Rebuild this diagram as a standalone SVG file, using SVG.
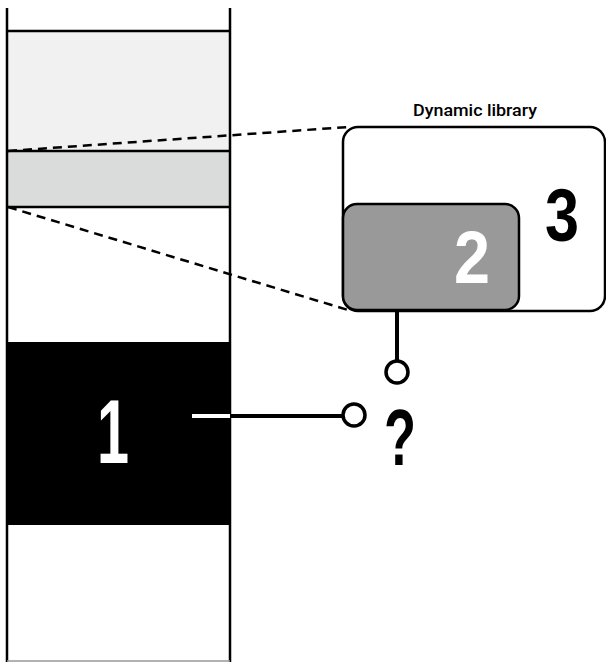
<svg xmlns="http://www.w3.org/2000/svg" width="606" height="662" viewBox="0 0 606 662">
<style>
.col{stroke:#000;stroke-width:2.5;fill:none}
.dash{stroke:#000;stroke-width:2.5;stroke-dasharray:9,6;fill:none}
.conn{stroke:#000;stroke-width:4;fill:none}
.pin{stroke:#000;stroke-width:3.5;fill:#fff}
.num{font-family:"Liberation Sans",Arial,sans-serif;font-weight:bold}
</style>
<rect width="606" height="662" fill="#fff"/>
<g id="memory">
<rect x="7" y="31" width="223" height="120" fill="#f1f1f1"/>
<rect x="7" y="151" width="223" height="56" fill="#dadbdb"/>
<rect x="7" y="342" width="224" height="183" fill="#000"/>
<line class="col" x1="7" y1="8" x2="7" y2="662"/>
<line class="col" x1="230" y1="8" x2="230" y2="662"/>
<line class="col" x1="7" y1="31" x2="230" y2="31"/>
<line class="col" x1="7" y1="151" x2="230" y2="151"/>
<line class="col" x1="7" y1="207" x2="230" y2="207"/>
<line x1="7" y1="661" x2="230" y2="661" stroke="#999" stroke-width="1.5"/>
</g>
<g id="node1">
<text class="num" x="113" y="463" font-size="90" fill="#fff" text-anchor="middle" textLength="32" lengthAdjust="spacingAndGlyphs">1</text>
</g>
<g id="connectors">
<line class="dash" x1="8" y1="151" x2="348" y2="127"/>
<line class="dash" x1="8" y1="207" x2="348" y2="310"/>
<line x1="192" y1="416" x2="230" y2="416" stroke="#fff" stroke-width="4"/>
<line class="conn" x1="230" y1="416" x2="342" y2="416"/>
<line class="conn" x1="397" y1="310" x2="397" y2="361"/>
<circle class="pin" cx="354" cy="415" r="11"/>
<circle class="pin" cx="397" cy="372" r="11"/>
</g>
<g id="node3">
<rect x="343" y="127" width="262" height="184" rx="15" fill="#fff" stroke="#000" stroke-width="2.5"/>
<text class="num" x="562" y="241" font-size="75" fill="#000" text-anchor="middle" textLength="34" lengthAdjust="spacingAndGlyphs">3</text>
<text x="475" y="116" font-family="Roboto,'Liberation Sans',sans-serif" font-weight="500" font-size="17" text-anchor="middle" textLength="124" lengthAdjust="spacingAndGlyphs">Dynamic library</text>
</g>
<g id="node2">
<rect x="343" y="204" width="176" height="106" rx="14" fill="#999" stroke="#000" stroke-width="2.5"/>
<text class="num" x="472" y="283" font-size="74" fill="#fff" text-anchor="middle" textLength="36" lengthAdjust="spacingAndGlyphs">2</text>
</g>
<g id="unknown">
<text class="num" x="400" y="465" font-size="80" fill="#000" text-anchor="middle" textLength="32" lengthAdjust="spacingAndGlyphs">?</text>
</g>
</svg>
